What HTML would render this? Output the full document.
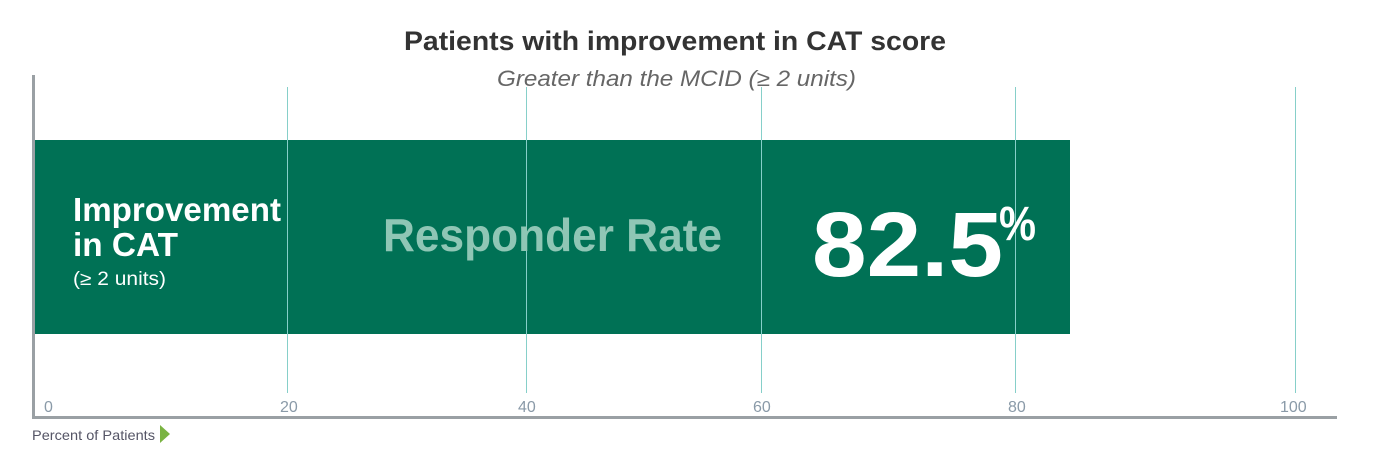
<!DOCTYPE html>
<html><head><meta charset="utf-8"><style>
html,body{margin:0;padding:0;background:#fff;}
svg{display:block;}
</style></head><body>
<svg width="1386" height="453" viewBox="0 0 1386 453" xmlns="http://www.w3.org/2000/svg" font-family="Liberation Sans, sans-serif">
<text x="404" y="50" font-size="27" font-weight="bold" fill="#333" textLength="542" lengthAdjust="spacingAndGlyphs">Patients with improvement in CAT score</text>
<text x="497" y="86" font-size="22" font-style="italic" fill="#666" textLength="359" lengthAdjust="spacingAndGlyphs">Greater than the MCID (≥ 2 units)</text>
<rect x="33" y="140" width="1037" height="194" fill="#007155"/>
<g stroke="#86cfc9" stroke-width="1">
<line x1="287.5" y1="87" x2="287.5" y2="393"/>
<line x1="526.5" y1="87" x2="526.5" y2="393"/>
<line x1="761.5" y1="87" x2="761.5" y2="393"/>
<line x1="1015.5" y1="87" x2="1015.5" y2="393"/>
<line x1="1295.5" y1="87" x2="1295.5" y2="393"/>
</g>
<rect x="32" y="75" width="3" height="344" fill="#9aa0a4"/>
<rect x="32" y="416" width="1305" height="3" fill="#9aa0a4"/>
<g font-size="16" fill="#8a9aa8">
<text x="44" y="412">0</text>
<text x="280" y="412">20</text>
<text x="518" y="412">40</text>
<text x="753" y="412">60</text>
<text x="1008" y="412">80</text>
<text x="1280" y="412">100</text>
</g>
<text x="32" y="440" font-size="14" fill="#556" textLength="123" lengthAdjust="spacingAndGlyphs">Percent of Patients</text>
<polygon points="160,425 170,434 160,443" fill="#7ab342"/>
<text x="73" y="221" font-size="33" font-weight="bold" fill="#fff" textLength="208" lengthAdjust="spacingAndGlyphs">Improvement</text>
<text x="73" y="256" font-size="33" font-weight="bold" fill="#fff" textLength="105" lengthAdjust="spacingAndGlyphs">in CAT</text>
<text x="73" y="285" font-size="19" fill="#fff" textLength="93" lengthAdjust="spacingAndGlyphs">(≥ 2 units)</text>
<text x="383" y="251" font-size="46" font-weight="bold" fill="#8fc6b5" textLength="339" lengthAdjust="spacingAndGlyphs">Responder Rate</text>
<text x="812" y="276" font-size="92" font-weight="bold" fill="#fff" textLength="191" lengthAdjust="spacingAndGlyphs">82.5</text>
<text x="999" y="240" font-size="48" font-weight="bold" fill="#fff" textLength="37" lengthAdjust="spacingAndGlyphs">%</text>
</svg>
</body></html>
